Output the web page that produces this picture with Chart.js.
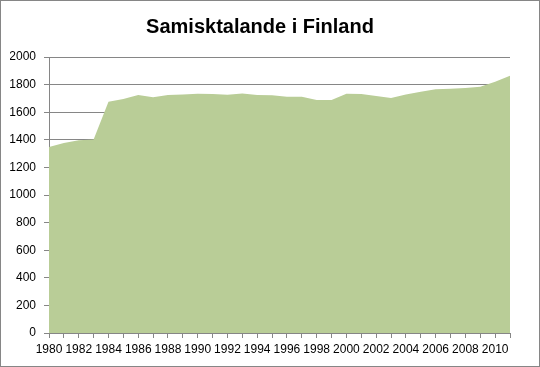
<!DOCTYPE html>
<html>
<head>
<meta charset="utf-8">
<script src="https://cdn.jsdelivr.net/npm/chart.js@4/dist/chart.umd.min.js"></script>
<style>
  html, body { margin: 0; padding: 0; background: #fff; }
  #wrap { position: relative; width: 540px; height: 367px; }
</style>
</head>
<body>
<div id="wrap"><canvas id="c" width="540" height="367"></canvas></div>
<script>
const years = [
  "1980", "1981", "1982", "1983", "1984", "1985", "1986", "1987",
  "1988", "1989", "1990", "1991", "1992", "1993", "1994", "1995",
  "1996", "1997", "1998", "1999", "2000", "2001", "2002", "2003",
  "2004", "2005", "2006", "2007", "2008", "2009", "2010", "2011",
];
const speakers = [
  1347, 1376, 1396, 1403, 1675, 1695, 1724, 1709,
  1724, 1729, 1734, 1731, 1726, 1736, 1724, 1722,
  1712, 1712, 1688, 1688, 1734, 1731, 1717, 1702,
  1729, 1748, 1766, 1770, 1775, 1785, 1821, 1865,
];
const chartTitle = "Samisktalande i Finland";

const AXIS_GRAY = "#868686";
const FILL = "rgb(185, 205, 151)";

// outer frame like the office chart border
const FRAME_PLUGIN = {
  id: "frame",
  beforeDraw: (chart) => {
    const ctx = chart.ctx;
    ctx.save();
    ctx.fillStyle = "#fff";
    ctx.fillRect(0, 0, chart.width, chart.height);
    ctx.strokeStyle = AXIS_GRAY;
    ctx.lineWidth = 1;
    ctx.strokeRect(0.5, 0.5, chart.width - 1, chart.height - 1);
    ctx.restore();
  },
};

new Chart(document.getElementById("c"), {
  type: "line",
  data: {
    labels: years,
    datasets: [
      {
        data: speakers,
        fill: "origin",
        backgroundColor: FILL,
        borderColor: FILL,
        borderWidth: 0,
        pointRadius: 0,
        tension: 0,
      },
    ],
  },
  options: {
    responsive: false,
    animation: false,
    layout: { padding: { top: 0, left: 10, right: 30, bottom: 0 } },
    plugins: {
      legend: { display: false },
      tooltip: { enabled: false },
      title: {
        display: true,
        text: chartTitle,
        color: "#000",
        font: { family: "Liberation Sans", size: 20, weight: "bold" },
        padding: { top: 15, bottom: 18 },
      },
    },
    scales: {
      x: {
        offset: false,
        afterFit: (s) => { s.height = 34; },
        grid: {
          drawOnChartArea: false,
          drawTicks: true,
          tickLength: 5,
          color: AXIS_GRAY,
        },
        border: { color: AXIS_GRAY },
        ticks: {
          autoSkip: false,
          maxRotation: 0,
          minRotation: 0,
          padding: 4,
          color: "#000",
          font: { family: "Liberation Sans", size: 12 },
          callback: function (v, i) {
            return i % 2 === 0 ? this.getLabelForValue(v) : "";
          },
        },
      },
      y: {
        min: 0,
        max: 2000,
        afterFit: (s) => { s.width = 39; },
        grid: {
          color: AXIS_GRAY,
          tickLength: 5,
        },
        border: { color: AXIS_GRAY },
        ticks: {
          stepSize: 200,
          padding: 8,
          color: "#000",
          font: { family: "Liberation Sans", size: 12 },
          callback: (v) => String(v),
        },
      },
    },
  },
  plugins: [FRAME_PLUGIN],
});
</script>
</body>
</html>
